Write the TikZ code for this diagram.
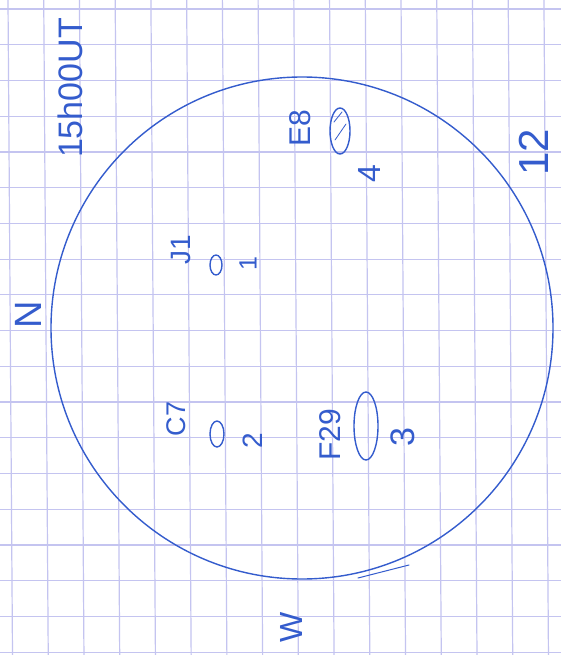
\documentclass[tikz,border=0pt]{standalone}
\usepackage{fontspec}
\setmainfont{Liberation Sans}
\definecolor{ink}{RGB}{52,92,205}
\definecolor{paperline}{RGB}{196,196,240}
\tikzset{
  lbl/.style={text=ink, inner sep=0pt, rotate=90},
  pen/.style={draw=ink, line width=1.4pt}
}

\begin{document}
\begin{tikzpicture}[x=1pt, y=-1pt, line cap=round]
\path[use as bounding box, fill=white] (0,0) rectangle (561,655);
% Karopapier
\foreach \k in {0,...,15}
  \draw[paperline, line width=1.2pt] ({8+35.73*\k},0) -- ({12.5+35.73*\k},655);
\foreach \k in {0,...,18}
  \draw[paperline, line width=1.2pt] (0,{9+35.73*\k}) -- (561,{9+35.73*\k});
% Sonnenscheibe
\draw[pen] (302,328) circle (251pt);
\draw[pen, line width=1pt] (358,578) -- (409,565);
% Zeit und Richtungen
\node[lbl, font=\fontsize{34}{34}\selectfont] (hourlbl) at (70,88) {15h00UT};
\node[lbl, font=\fontsize{38}{38}\selectfont] (northlbl) at (28,315) {N};
\node[lbl, font=\fontsize{32}{32}\selectfont] (westlbl) at (291,627) {W};
\node[lbl, font=\fontsize{42}{42}\selectfont] (rimlbl) at (534,152) {12};
% Gruppe 1
\node[lbl, font=\fontsize{28}{28}\selectfont] (jlbl) at (181,250) {J1};
\draw[pen] (216,265) ellipse [x radius=6pt, y radius=10pt];
\node[lbl, font=\fontsize{25}{25}\selectfont] (onelbl) at (248,264) {1};
% Gruppe 2
\node[lbl, font=\fontsize{27}{27}\selectfont] (clbl) at (176,419) {C7};
\draw[pen] (217,434) ellipse [x radius=7pt, y radius=13pt];
\node[lbl, font=\fontsize{28}{28}\selectfont] (twolbl) at (253,441) {2};
% Gruppe 3
\node[lbl, font=\fontsize{30}{30}\selectfont] (flbl) at (330,435) {F29};
\draw[pen] (366,426) ellipse [x radius=12pt, y radius=34pt];
\node[lbl, font=\fontsize{34}{34}\selectfont] (threelbl) at (403,437) {3};
% Gruppe 4
\node[lbl, font=\fontsize{30}{30}\selectfont] (elbl) at (300,128) {E8};
\draw[pen] (340,131) ellipse [x radius=10pt, y radius=23pt];
\draw[pen, line width=0.8pt] (334,122) -- (342,112);
\draw[pen, line width=0.8pt] (335,140) -- (346,124);
\node[lbl, font=\fontsize{32}{32}\selectfont] (fourlbl) at (369,174) {4};
\end{tikzpicture}
\end{document}
